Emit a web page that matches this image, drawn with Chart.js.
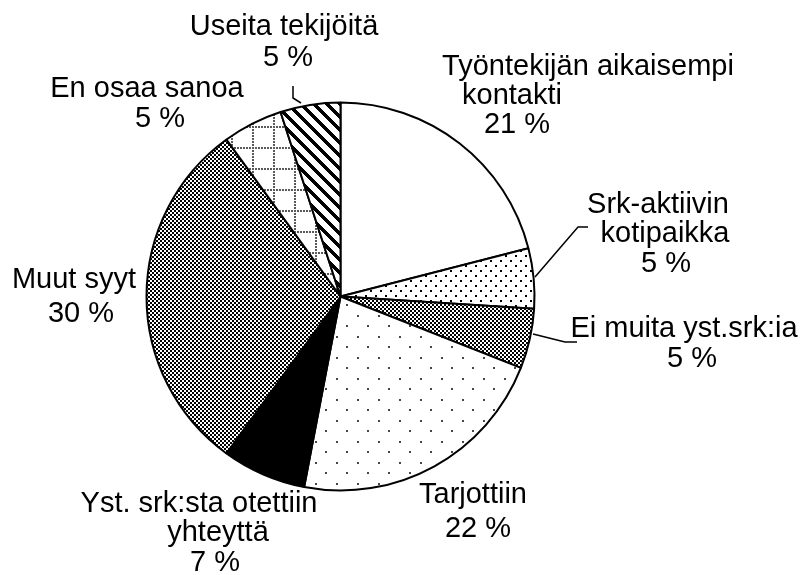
<!DOCTYPE html>
<html>
<head>
<meta charset="utf-8">
<script src="https://cdn.jsdelivr.net/npm/chart.js@4/dist/chart.umd.min.js"></script>
<style>
  html, body { margin: 0; padding: 0; background: #fff; }
  #wrap { width: 801px; height: 575px; position: relative; }
</style>
</head>
<body>
<div id="wrap"><canvas id="c" width="801" height="575"></canvas></div>
<script>
// ---- data ----
const categories = [
  "Työntekijän aikaisempi\nkontakti",
  "Srk-aktiivin\nkotipaikka",
  "Ei muita yst.srk:ia",
  "Tarjottiin",
  "Yst. srk:sta otettiin\nyhteyttä",
  "Muut syyt",
  "En osaa sanoa",
  "Useita tekijöitä"
];
const values = [21, 5, 5, 22, 7, 30, 5, 5];
const percentSuffix = " %";

// ---- label layout (center x, baseline y per text line) ----
const labelLayout = [
  [[588, 75], [512, 104], [517, 133]],
  [[658, 213], [665, 242], [666, 272]],
  [[684, 337], [692, 367]],
  [[473, 503], [478, 537]],
  [[199, 512], [218, 541], [215, 571]],
  [[74, 288], [81, 322]],
  [[147, 97], [160, 127]],
  [[284, 35], [288, 66]]
];
const leaderLines = [
  [[588, 227], [578, 227], [535, 277]],
  [[533, 334], [565, 342], [577, 342]],
  [[293, 86], [293, 98], [301, 103]]
];

// ---- fill patterns ----
function pixelPattern(w, h, fn) {
  const cv = document.createElement('canvas');
  cv.width = w; cv.height = h;
  const cx = cv.getContext('2d');
  const img = cx.createImageData(w, h);
  for (let y = 0; y < h; y++) {
    for (let x = 0; x < w; x++) {
      const v = fn(x, y); // null = white, else gray level
      const i = (y * w + x) * 4;
      const g = v === null ? 255 : v;
      img.data[i] = g; img.data[i + 1] = g; img.data[i + 2] = g; img.data[i + 3] = 255;
    }
  }
  cx.putImageData(img, 0, 0);
  return cx.createPattern(cv, 'repeat');
}
const ctx = document.getElementById('c').getContext('2d');
const patWhite = '#ffffff';
const patDenseDots = pixelPattern(10, 10, (x, y) =>
  ((x < 2 && y < 2) || (x >= 5 && x < 7 && y >= 5 && y < 7)) ? 0 : null);
const patChecker = pixelPattern(4, 4, (x, y) =>
  ((Math.floor(x / 2) + Math.floor(y / 2)) % 2 === 0) ? 0 : null);
const patSparseDots = pixelPattern(21, 21, (x, y) =>
  ((x < 2 && y < 2) || (x >= 10 && x < 12 && y >= 10 && y < 12)) ? 70 : null);
const patBlack = '#000000';
const patChecker2 = pixelPattern(4, 4, (x, y) =>
  ((Math.floor(x / 2) + Math.floor(y / 2)) % 2 === 0) ? 0 : null);
const patDotGrid = pixelPattern(21, 21, (x, y) =>
  (((x < 2) && (y % 3 < 2)) || ((y < 2) && (x % 3 < 2))) ? 90 : null);
const patStripes = pixelPattern(13, 13, (x, y) =>
  ((((x - y) % 13) + 13) % 13 < 5) ? 0 : null);

const fills = [patWhite, patDenseDots, patChecker, patSparseDots, patBlack, patChecker2, patDotGrid, patStripes];

const labelPlugin = {
  id: 'labelPlugin',
  afterDraw(chart) {
    const c = chart.ctx;
    c.save();
    c.fillStyle = '#000';
    c.font = '29px "Liberation Sans", Arial, sans-serif';
    c.textAlign = 'center';
    c.textBaseline = 'alphabetic';
    categories.forEach((cat, i) => {
      const lines = cat.split('\n').concat([values[i] + percentSuffix]);
      lines.forEach((t, j) => {
        const p = labelLayout[i][j];
        c.fillText(t, p[0], p[1]);
      });
    });
    c.strokeStyle = '#000';
    c.lineWidth = 1.5;
    leaderLines.forEach(pts => {
      c.beginPath();
      c.moveTo(pts[0][0], pts[0][1]);
      for (let k = 1; k < pts.length; k++) c.lineTo(pts[k][0], pts[k][1]);
      c.stroke();
    });
    c.restore();
  }
};

new Chart(ctx, {
  type: 'pie',
  data: {
    labels: categories,
    datasets: [{
      data: values,
      backgroundColor: fills,
      borderColor: '#000',
      borderWidth: 2,
      hoverOffset: 0
    }]
  },
  options: {
    responsive: false,
    animation: false,
    radius: 194,
    layout: { padding: { left: 0, right: 120, top: 18, bottom: 0 } },
    plugins: {
      legend: { display: false },
      tooltip: { enabled: false }
    },
    events: []
  },
  plugins: [labelPlugin]
});
</script>
</body>
</html>
